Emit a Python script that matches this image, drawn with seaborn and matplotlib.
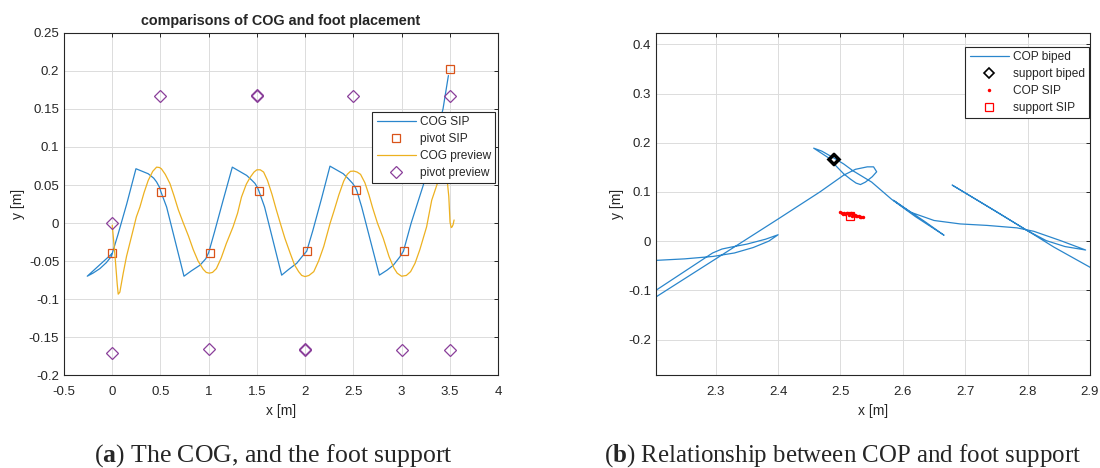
# recreacion de la figura COG / COP
import numpy as np
import pandas as pd

import matplotlib
matplotlib.use("Agg")
import matplotlib.pyplot as plt
import seaborn as sns
from matplotlib.ticker import FuncFormatter

# ---------------- datos panel (a) ----------------
cog_sip_x = [0.0, -0.259, -0.20, -0.128, -0.06, -0.01, 0.0, 0.06, 0.15, 0.246, 0.373, 0.43, 0.46, 0.49,
             0.505, 0.564, 0.744, 0.82, 0.91, 0.97, 1.0, 1.06, 1.15, 1.245, 1.394, 1.45, 1.48, 1.505,
             1.52, 1.58, 1.757, 1.83, 1.913, 1.97, 2.017, 2.08, 2.17, 2.258, 2.396, 2.45, 2.493, 2.52,
             2.535, 2.587, 2.77, 2.85, 2.915, 2.98, 3.02, 3.1, 3.226, 3.33, 3.43, 3.486]
cog_sip_y = [-0.040, -0.070, -0.066, -0.060, -0.052, -0.044, -0.040, -0.015, 0.025, 0.0714, 0.0648, 0.059,
             0.054, 0.047, 0.041, 0.021, -0.070, -0.063, -0.0555, -0.047, -0.039, -0.012, 0.030, 0.0735,
             0.0626, 0.056, 0.0521, 0.047, 0.0424, 0.021, -0.0686, -0.061, -0.053, -0.044, -0.037, -0.010,
             0.032, 0.0748, 0.0648, 0.058, 0.0521, 0.047, 0.043, 0.021, -0.0686, -0.062, -0.0555, -0.045,
             -0.037, 0.0, 0.05, 0.10, 0.15, 0.194]

pivot_sip_x = [0.0, 0.502, 1.013, 1.522, 2.017, 2.528, 3.029, 3.503]
pivot_sip_y = [-0.040, 0.0407, -0.039, 0.042, -0.037, 0.0438, -0.0365, 0.2026]

cog_prev_x = [0.0, 0.028, 0.052, 0.062, 0.079, 0.114, 0.148, 0.217, 0.25, 0.287, 0.33, 0.373, 0.42, 0.46,
              0.49, 0.51, 0.55, 0.598, 0.64, 0.685, 0.737, 0.79, 0.84, 0.89, 0.944, 0.975, 1.006, 1.04,
              1.08, 1.13, 1.183, 1.253, 1.30, 1.34, 1.39, 1.43, 1.47, 1.50, 1.535, 1.57, 1.61, 1.656,
              1.70, 1.742, 1.79, 1.846, 1.89, 1.933, 1.965, 2.0, 2.04, 2.09, 2.14, 2.193, 2.26, 2.30,
              2.35, 2.40, 2.437, 2.47, 2.506, 2.54, 2.575, 2.62, 2.662, 2.70, 2.75, 2.81, 2.87, 2.92,
              2.955, 3.0, 3.05, 3.094, 3.14, 3.19, 3.26, 3.313, 3.382, 3.42, 3.45, 3.475, 3.49, 3.503,
              3.515, 3.525, 3.535, 3.545]
cog_prev_y = [-0.003, -0.042, -0.081, -0.0936, -0.091, -0.066, -0.044, -0.009, 0.008, 0.021, 0.040, 0.056,
              0.068, 0.0735, 0.073, 0.0713, 0.064, 0.052, 0.036, 0.0175, 0.0, -0.017, -0.035, -0.050,
              -0.061, -0.065, -0.066, -0.065, -0.060, -0.046, -0.027, -0.005, 0.013, 0.034, 0.051, 0.060,
              0.067, 0.070, 0.070, 0.067, 0.056, 0.038, 0.018, 0.0, -0.020, -0.040, -0.055, -0.064,
              -0.069, -0.0705, -0.069, -0.064, -0.050, -0.031, 0.0, 0.016, 0.037, 0.055, 0.064, 0.068,
              0.0683, 0.067, 0.064, 0.053, 0.037, 0.020, 0.0, -0.020, -0.044, -0.059, -0.066, -0.070,
              -0.069, -0.064, -0.053, -0.035, -0.005, 0.030, 0.056, 0.066, 0.070, 0.054, 0.035, 0.001,
              -0.006, -0.005, -0.002, 0.004]

pivot_prev_x = [0.5, 1.5, 1.498, 2.5, 3.5, 0.0, 0.0, 1.0, 2.0, 1.997, 3.0, 3.5]
pivot_prev_y = [0.167, 0.167, 0.168, 0.167, 0.167, 0.0, -0.171, -0.166, -0.167, -0.166, -0.167, -0.167]

# ---------------- datos panel (b) ----------------
cop_biped_x = [2.190, 2.25, 2.296, 2.33, 2.36, 2.385, 2.40, 2.38, 2.35, 2.325, 2.31, 2.295, 2.204, 2.17,
               2.17, 2.30, 2.40, 2.467, 2.505, 2.524, 2.543, 2.553, 2.558, 2.551, 2.54, 2.532, 2.525,
               2.516, 2.505, 2.495, 2.48, 2.457, 2.47, 2.488, 2.505, 2.52, 2.55, 2.582, 2.62, 2.666,
               2.635, 2.60, 2.585, 2.612, 2.65, 2.692, 2.735, 2.783, 2.81, 2.853, 2.893, 2.86, 2.83,
               2.80, 2.75, 2.679, 2.70, 2.756, 2.804, 2.842, 2.90, 2.93]
cop_biped_y = [-0.040, -0.036, -0.031, -0.024, -0.013, 0.0, 0.013, 0.004, -0.006, -0.012, -0.016, -0.024,
               -0.100, -0.128, -0.141, -0.036, 0.045, 0.10, 0.134, 0.146, 0.151, 0.151, 0.141, 0.131,
               0.12, 0.115, 0.118, 0.126, 0.137, 0.15, 0.17, 0.189, 0.183, 0.17, 0.157, 0.143, 0.12,
               0.085, 0.05, 0.012, 0.04, 0.07, 0.083, 0.059, 0.042, 0.035, 0.032, 0.027, 0.02, 0.001,
               -0.018, -0.011, 0.001, 0.021, 0.06, 0.114, 0.098, 0.055, 0.018, -0.012, -0.053, -0.075]

support_biped_x = [2.488, 2.489]
support_biped_y = [0.167, 0.166]

cop_sip_x = [2.500, 2.503, 2.506, 2.510, 2.513, 2.517, 2.520, 2.523, 2.526, 2.530, 2.533, 2.536,
             2.531, 2.525, 2.519, 2.514, 2.508, 2.504]
cop_sip_y = [0.059, 0.058, 0.058, 0.057, 0.056, 0.057, 0.055, 0.054, 0.052, 0.051, 0.050, 0.049,
             0.049, 0.051, 0.052, 0.053, 0.055, 0.056]

support_sip_x = [2.515]
support_sip_y = [0.051]

# colores tipo MATLAB (algo aclarados como en la captura)
AZUL, NARANJA, AMARILLO, MORADO = '#2a86cc', '#D95319', '#EDB120', '#8a3f9a'
GRIS = '#262626'

sns.set_style('white')
plt.rcParams['font.family'] = ['Liberation Sans', 'DejaVu Sans']
plt.rcParams['mathtext.fontset'] = 'custom'
plt.rcParams['mathtext.rm'] = 'Liberation Serif'
plt.rcParams['mathtext.bf'] = 'Liberation Serif:bold'

fmt = FuncFormatter(lambda v, p: f"{round(v, 3) + 0:g}")


def estilo_matlab(ax, xticks, yticks, xlim, ylim):
    ax.set_xlim(*xlim)
    ax.set_ylim(*ylim)
    ax.set_xticks(xticks)
    ax.set_yticks(yticks)
    ax.xaxis.set_major_formatter(fmt)
    ax.yaxis.set_major_formatter(fmt)
    ax.grid(True, color='#dcdcdc', linewidth=0.7)
    ax.set_axisbelow(True)
    for s in ax.spines.values():
        s.set_color(GRIS)
        s.set_linewidth(0.8)
        s.set_visible(True)
    ax.tick_params(direction='in', length=3, width=0.7, colors=GRIS, labelsize=9.5,
                   top=True, right=True)
    ax.tick_params(axis='x', pad=8)
    ax.tick_params(axis='y', pad=3.5)
    ax.set_xlabel('x [m]', fontsize=10, color=GRIS, labelpad=4)
    ax.set_ylabel('y [m]', fontsize=10, color=GRIS, labelpad=3)


def leyenda(ax, anchor):
    leg = ax.legend(loc='upper right', bbox_to_anchor=anchor, fontsize=8.6, frameon=True,
                    fancybox=False, edgecolor=GRIS, framealpha=1, borderpad=0.35, labelspacing=0.42,
                    handlelength=3.3, handletextpad=0.3, borderaxespad=0)
    leg.get_frame().set_linewidth(0.8)
    return leg


fig = plt.figure(figsize=(11, 4.68), dpi=100)

# ---------------- panel (a) ----------------
ax1 = fig.add_axes([0.0582, 0.1987, 0.3945, 0.7308])
sns.lineplot(x=cog_sip_x, y=cog_sip_y, sort=False, estimator=None, color=AZUL, linewidth=0.9,
             label='COG SIP', ax=ax1)
sns.lineplot(x=pivot_sip_x, y=pivot_sip_y, sort=False, estimator=None, linestyle='none', marker='s',
             markersize=5.5, markerfacecolor='none', markeredgecolor=NARANJA, markeredgewidth=0.9,
             color=NARANJA, label='pivot SIP', ax=ax1)
sns.lineplot(x=cog_prev_x, y=cog_prev_y, sort=False, estimator=None, color=AMARILLO, linewidth=0.9,
             label='COG preview', ax=ax1)
sns.lineplot(x=pivot_prev_x, y=pivot_prev_y, sort=False, estimator=None, linestyle='none', marker='D',
             markersize=6, markerfacecolor='none', markeredgecolor=MORADO, markeredgewidth=0.9,
             color=MORADO, label='pivot preview', ax=ax1)
estilo_matlab(ax1, np.arange(-0.5, 4.01, 0.5), np.arange(-0.2, 0.251, 0.05), (-0.5, 4), (-0.2, 0.25))
ax1.set_title('comparisons of COG and foot placement', fontsize=10.4, fontweight='bold', pad=6)
leyenda(ax1, (0.993, 0.769))

# ---------------- panel (b) ----------------
ax2 = fig.add_axes([0.5964, 0.1987, 0.3945, 0.7308])
sns.lineplot(x=cop_biped_x, y=cop_biped_y, sort=False, estimator=None, color=AZUL, linewidth=0.9,
             label='COP biped', ax=ax2)
sns.lineplot(x=support_biped_x, y=support_biped_y, sort=False, estimator=None, linestyle='none',
             marker='D', markersize=5, markerfacecolor='none', markeredgecolor='black',
             markeredgewidth=2, color='black', label='support biped', ax=ax2)
sns.lineplot(x=cop_sip_x, y=cop_sip_y, sort=False, estimator=None, linestyle='none', marker='.',
             markersize=5, markerfacecolor='red', markeredgecolor='red', markeredgewidth=0,
             color='red', label='COP SIP', ax=ax2)
sns.lineplot(x=support_sip_x, y=support_sip_y, sort=False, estimator=None, linestyle='none',
             marker='s', markersize=5.5, markerfacecolor='none', markeredgecolor='red',
             markeredgewidth=0.9, color='red', label='support SIP', ax=ax2)
estilo_matlab(ax2, np.arange(2.3, 2.91, 0.1), np.arange(-0.2, 0.41, 0.1), (2.2043, 2.9), (-0.272, 0.423))
leg2 = leyenda(ax2, (0.997, 0.96))
# marcador del legend de support biped mas fino
leg2.get_lines()[1].set_markeredgewidth(1.2)

# ---------------- pies de figura ----------------
fig.text(0.2486, 0.013, r"($\mathbf{a}$) The COG, and the foot support", fontsize=18.5,
         family='Liberation Serif', ha='center', va='baseline')
fig.text(0.549, 0.013, r"($\mathbf{b}$) Relationship between COP and foot support", fontsize=17.9,
         family='Liberation Serif', ha='left', va='baseline')

fig.savefig('out.png', dpi=100)
